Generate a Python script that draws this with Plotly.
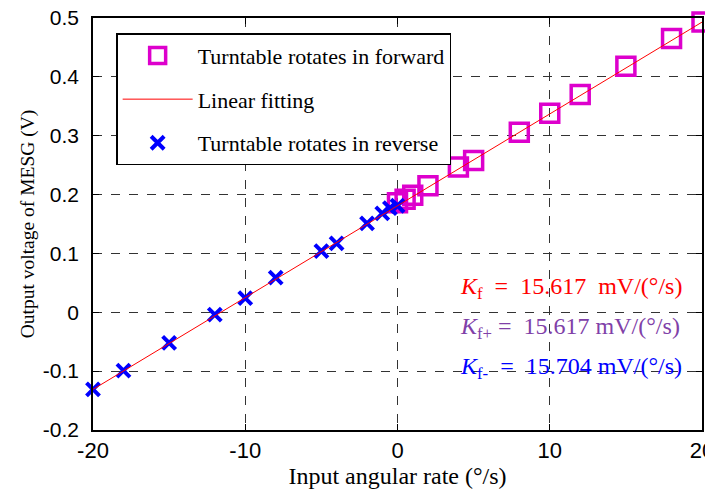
import plotly.graph_objects as go

# Forward rotation data
fwd_x = [0, 0.5, 1, 2, 4, 5, 8, 10, 12, 15, 18, 20]
fwd_y = [0.186, 0.192, 0.199, 0.215, 0.247, 0.258, 0.306, 0.338, 0.370, 0.418, 0.465, 0.493]

# Reverse rotation data
rev_x = [-20, -18, -15, -12, -10, -8, -5, -4, -2, -1, -0.5, 0]
rev_y = [-0.131, -0.099, -0.052, -0.004, 0.024, 0.059, 0.104, 0.117, 0.151, 0.168, 0.177, 0.181]

# Linear fit endpoints
fit_x = [-20, 20]
fit_y = [-0.131, 0.493]

x_ticks = [-20, -10, 0, 10, 20]
x_labels = ["-20", "-10", "0", "10", "20"]
y_ticks = [-0.2, -0.1, 0, 0.1, 0.2, 0.3, 0.4, 0.5]
y_labels = ["-0.2", "-0.1", "0", "0.1", "0.2", "0.3", "0.4", "0.5"]

serif = "Liberation Serif"
sans = "Liberation Sans"

fig = go.Figure()
fig.add_trace(go.Scatter(x=fwd_x, y=fwd_y, mode="markers", name="Turntable rotates in forward",
                         legendgroup="a", legendrank=1, cliponaxis=False,
                         marker=dict(symbol="square-open", size=18, color="#dd00cc", line=dict(width=3.5, color="#dd00cc"))))
fig.add_trace(go.Scatter(x=rev_x, y=rev_y, mode="markers", name="Turntable rotates in reverse",
                         legendgroup="c", legendrank=3, cliponaxis=False,
                         marker=dict(symbol="x-thin", size=13, color="#0000ff", line=dict(width=4, color="#0000ff"))))
fig.add_trace(go.Scatter(x=fit_x, y=fit_y, mode="lines", name="Linear fitting", legendgroup="b", legendrank=2,
                         line=dict(color="#ff0000", width=1)))

fig.update_layout(
    width=705, height=485,
    margin=dict(l=85, r=11, t=10, b=63, autoexpand=False),
    plot_bgcolor="white", paper_bgcolor="white",
    showlegend=True,
    legend=dict(x=0.038, y=0.963, xanchor="left", yanchor="top",
                bgcolor="white", bordercolor="black", borderwidth=1.5,
                font=dict(family=serif, size=22, color="black"),
                tracegroupgap=12, itemwidth=70, traceorder="grouped"),
    xaxis=dict(range=[-20, 20], tickvals=x_ticks, ticktext=x_labels, ticks="inside", ticklen=6, tickcolor="black",
               showline=True, linecolor="black", linewidth=1.5, mirror="ticks",
               showgrid=True, gridcolor="#333333", griddash="dash", gridwidth=1, zeroline=False,
               ticklabeloverflow="allow", automargin=False,
               tickfont=dict(family=sans, size=22, color="black"),
               title=dict(text="Input angular rate (°/s)", font=dict(family=serif, size=24, color="black"), standoff=4)),
    yaxis=dict(range=[-0.2, 0.5], tickvals=y_ticks, ticktext=y_labels, ticks="inside", ticklen=6, tickcolor="black",
               showline=True, linecolor="black", linewidth=1.5, mirror="ticks",
               showgrid=True, gridcolor="#333333", griddash="dash", gridwidth=1, zeroline=False,
               ticklabeloverflow="allow", automargin=False, ticklabelstandoff=8,
               tickfont=dict(family=sans, size=21, color="black"),
               title=dict(text="Output voltage of MESG (V)", font=dict(family=serif, size=19.5, color="black"), standoff=3)),
)

ann = [
    ("<i>K</i><sub>f</sub>  =  15.617  mV/(°/s)", "#ff0000", 0.042),
    ("<i>K</i><sub>f+</sub> =  15.617 mV/(°/s)", "#8040a8", -0.026),
    ("<i>K</i><sub>f-</sub>  =  15.704 mV/(°/s)", "#0000ff", -0.094),
]
for txt, col, yy in ann:
    fig.add_annotation(x=4.0, y=yy, xref="x", yref="y", xanchor="left", yanchor="middle",
                       text=txt, showarrow=False, font=dict(family=serif, size=24, color=col))

fig.write_html("out.html")
